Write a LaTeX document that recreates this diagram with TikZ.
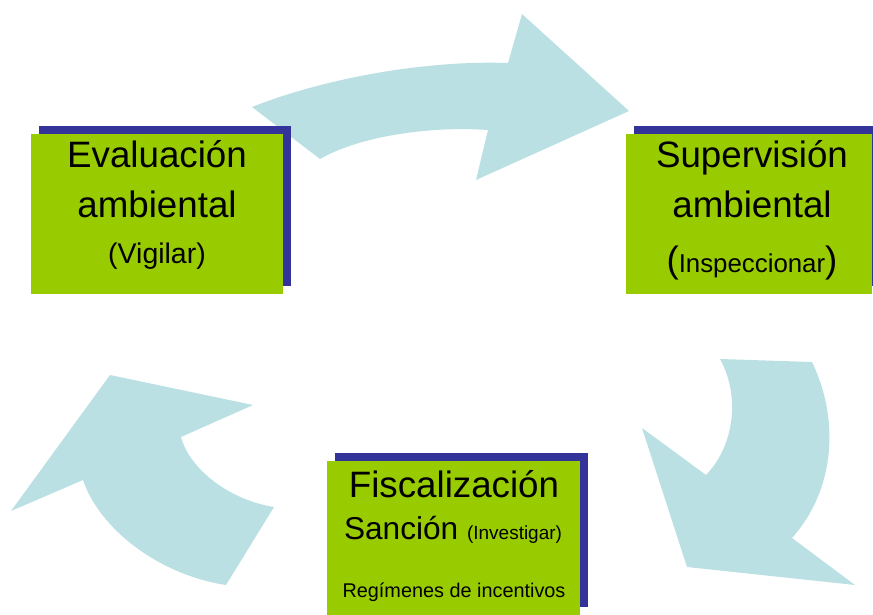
\documentclass[tikz,border=0pt]{standalone}
\usepackage{fontspec}
\setmainfont{Liberation Sans}
\usepackage{tikz}
\usetikzlibrary{shadows}

\definecolor{boxgreen}{HTML}{99CC00}
\definecolor{boxnavy}{HTML}{333399}
\definecolor{arrowblue}{HTML}{BBE0E3}

\tikzset{
  cyclebox/.style = {rectangle, fill = boxgreen, inner sep = 0pt, general shadow = {fill = boxnavy, shadow xshift = 0.16cm, shadow yshift = 0.16cm}},
  cyclearrow/.style = {fill = arrowblue, draw = none},
  bigtxt/.style = {anchor = base, inner sep = 0pt, font = \fontsize{20.9}{24}\selectfont}
}

\begin{document}
\begin{tikzpicture}[x = 0.02cm, y = -0.02cm]

\useasboundingbox ( 0, 0 ) rectangle ( 873, 615 );

% Top arrow
\fill [cyclearrow] ( 252, 107 ) .. controls ( 320, 80 ) and ( 420, 60 ) .. ( 508, 63 ) -- ( 522, 14 ) -- ( 629, 111 ) -- ( 476, 180 ) -- ( 488, 130 ) .. controls ( 430, 126 ) and ( 360, 136 ) .. ( 320, 159 ) -- cycle;

% Right arrow
\fill [cyclearrow] ( 720, 359 ) -- ( 812, 362 ) .. controls ( 840, 420 ) and ( 835, 490 ) .. ( 792, 538 ) -- ( 855, 585 ) -- ( 687, 567 ) -- ( 642, 428 ) -- ( 706, 475 ) .. controls ( 735, 445 ) and ( 740, 395 ) .. cycle;

% Left arrow
\fill [cyclearrow] ( 274, 507 ) -- ( 226, 585 ) .. controls ( 160, 575 ) and ( 100, 530 ) .. ( 83, 480 ) -- ( 11, 511 ) -- ( 110, 375 ) -- ( 253, 405 ) -- ( 181, 437 ) .. controls ( 190, 470 ) and ( 230, 500 ) .. cycle;

% Evaluacion
\node [cyclebox, minimum width = 5.04cm, minimum height = 3.2cm] (eval) at ( 157, 214 ) {};
\node [bigtxt] (evalA) at ( 157, 168 ) {Evaluación};
\node [bigtxt] (evalB) at ( 157, 217 ) {ambiental};
\node [bigtxt, font = \fontsize{16.2}{19}\selectfont] (evalC) at ( 157, 263 ) {(Vigilar)};

% Supervision
\node [cyclebox, minimum width = 4.92cm, minimum height = 3.2cm] (superv) at ( 749, 214 ) {};
\node [bigtxt] (supervA) at ( 752, 168 ) {Supervisión};
\node [bigtxt] (supervB) at ( 752, 217 ) {ambiental};
\node [bigtxt] (supervC) at ( 752, 273 ) {({\fontsize{14.7}{17}\selectfont Inspeccionar})};

% Fiscalizacion
\node [cyclebox, minimum width = 5.06cm, minimum height = 3.08cm] (fisc) at ( 453.5, 538 ) {};
\node [bigtxt] (fiscA) at ( 454, 497 ) {Fiscalización};
\node [bigtxt, font = \fontsize{18}{21}\selectfont] (fiscB) at ( 453, 539 ) {Sanción {\fontsize{10.8}{13}\selectfont (Investigar)}};
\node [bigtxt, font = \fontsize{11.3}{13}\selectfont] (fiscC) at ( 454, 597 ) {Regímenes de incentivos};

\end{tikzpicture}
\end{document}
